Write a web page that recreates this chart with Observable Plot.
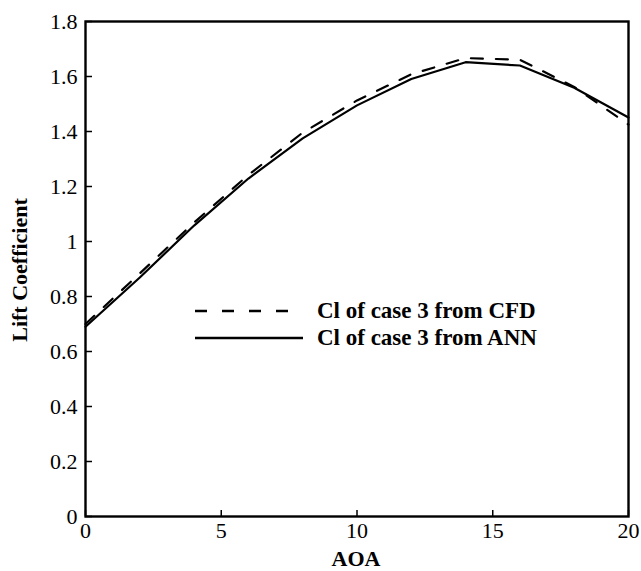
<!DOCTYPE html>
<html>
<head>
<meta charset="utf-8">
<script src="https://cdn.jsdelivr.net/npm/d3@7"></script>
<script src="https://cdn.jsdelivr.net/npm/@observablehq/plot@0.6"></script>
<style>
  body { margin: 0; background: #fff; }
  #wrap { position: relative; width: 641px; height: 571px; }
  #legend { position: absolute; left: 195px; top: 297px; font-family: "Liberation Serif", serif; font-weight: bold; font-size: 23px; color: #000; }
  .row { display: flex; align-items: center; height: 27px; }
  .row svg { margin-right: 14px; }
</style>
</head>
<body>
<div id="wrap"></div>
<script>
const aoa = [0, 2, 4, 6, 8, 10, 12, 14, 16, 18, 20];
const clCFD = [0.70, 0.884, 1.069, 1.242, 1.396, 1.513, 1.608, 1.667, 1.661, 1.562, 1.425];
const clANN = [0.69, 0.869, 1.058, 1.229, 1.375, 1.495, 1.591, 1.652, 1.640, 1.559, 1.451];
const xTicks = [0, 5, 10, 15, 20];
const yTicks = [0, 0.2, 0.4, 0.6, 0.8, 1, 1.2, 1.4, 1.6, 1.8];
const seriesNames = ["Cl of case 3 from CFD", "Cl of case 3 from ANN"];

const cfd = aoa.map((a, i) => ({x: a, y: clCFD[i]}));
const ann = aoa.map((a, i) => ({x: a, y: clANN[i]}));

const fmt = d => String(+d.toFixed(1));

const chart = Plot.plot({
  width: 641,
  height: 571,
  marginLeft: 85,
  marginRight: 13,
  marginTop: 21,
  marginBottom: 55,
  style: {fontFamily: "'Liberation Serif', serif", fontSize: "22px", color: "#000", background: "#fff"},
  x: {domain: [0, 20]},
  y: {domain: [0, 1.8]},
  marks: [
    Plot.axisX({ticks: xTicks, tickSize: -6, tickPadding: 12, tickFormat: fmt, strokeWidth: 1.5, label: null, fontSize: 22}),
    Plot.axisY({ticks: yTicks, tickSize: -7, tickPadding: 15, tickFormat: fmt, strokeWidth: 1.5, label: null, fontSize: 22}),
    Plot.line(cfd, {x: "x", y: "y", stroke: "#000", strokeWidth: 2.2, strokeDasharray: "12,13"}),
    Plot.line(ann, {x: "x", y: "y", stroke: "#000", strokeWidth: 2.2}),
    Plot.frame({stroke: "#000", strokeWidth: 2.4})
  ]
});

const svg = d3.select(chart);
svg.append("text")
  .attr("x", 356).attr("y", 566)
  .attr("text-anchor", "middle")
  .attr("font-family", "'Liberation Serif', serif")
  .attr("font-weight", "bold").attr("font-size", 22)
  .text("AOA");
svg.append("text")
  .attr("transform", "translate(27,270) rotate(-90)")
  .attr("text-anchor", "middle")
  .attr("font-family", "'Liberation Serif', serif")
  .attr("font-weight", "bold").attr("font-size", 22)
  .text("Lift Coefficient");

document.getElementById("wrap").appendChild(chart);

const legend = document.createElement("div");
legend.id = "legend";
const styles = [{dash: "12,15"}, {dash: null}];
seriesNames.forEach((name, i) => {
  const row = document.createElement("div");
  row.className = "row";
  const sw = d3.create("svg").attr("width", 108).attr("height", 10);
  sw.append("line").attr("x1", 0).attr("x2", 108).attr("y1", 5).attr("y2", 5)
    .attr("stroke", "#000").attr("stroke-width", 2.4)
    .attr("stroke-dasharray", styles[i].dash);
  row.appendChild(sw.node());
  const span = document.createElement("span");
  span.textContent = name;
  row.appendChild(span);
  legend.appendChild(row);
});
document.getElementById("wrap").appendChild(legend);
</script>
</body>
</html>
